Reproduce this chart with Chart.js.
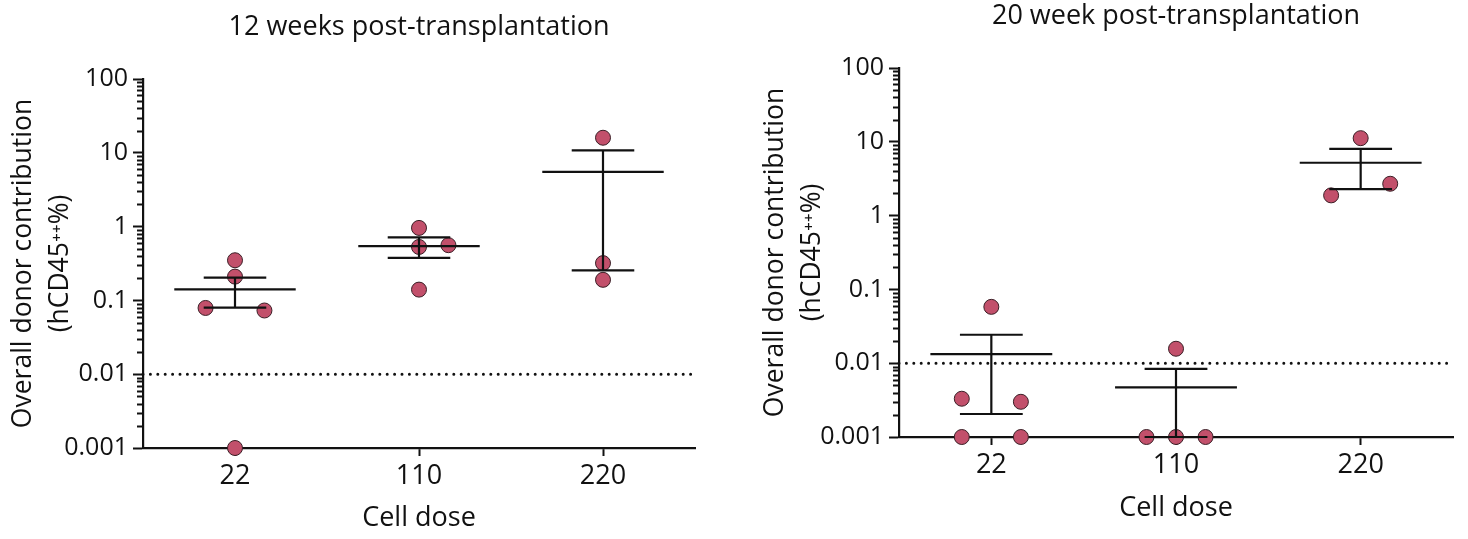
<!DOCTYPE html>
<html>
<head>
<meta charset="utf-8">
<script src="https://cdn.jsdelivr.net/npm/chart.js@4.4.1/dist/chart.umd.min.js"></script>
<style>
  html, body { margin: 0; padding: 0; background: #fff; overflow: hidden; }
  body { width: 1468px; height: 539px; position: relative; }
  canvas { position: absolute; top: 0; }
  #left { left: 0; }
  #right { left: 740px; }
</style>
</head>
<body>
<canvas id="left" width="734" height="539"></canvas>
<canvas id="right" width="728" height="539"></canvas>
<script>
const doses = ["22", "110", "220"];
const yTicks = [0.001, 0.01, 0.1, 1, 10, 100];
const yTickLabels = ["0.001", "0.01", "0.1", "1", "10", "100"];
const detectionLimit = 0.01;
const yTitle = ["Overall donor contribution", "(hCD45\u207A\u207A%)"];
const xTitle = "Cell dose";

// 12 weeks
const w12Values = [[0.35, 0.21, 0.079, 0.073, 0.001], [0.96, 0.53, 0.56, 0.14], [16, 0.32, 0.19]];
const w12Jitter = [[0, 0, -0.16, 0.16, 0], [0, 0, 0.16, 0], [0, 0, 0]];
const w12Mean = [0.141, 0.545, 5.5];
const w12High = [0.203, 0.715, 10.8];
const w12Low = [0.080, 0.377, 0.255];

// 20 weeks
const w20Values = [[0.058, 0.0033, 0.003, 0.001, 0.001], [0.0157, 0.001, 0.001, 0.001], [11.2, 2.7, 1.88]];
const w20Jitter = [[0, -0.16, 0.16, -0.16, 0.16], [0, -0.16, 0, 0.16], [0, 0.16, -0.16]];
const w20Mean = [0.0133, 0.0047, 5.2];
const w20High = [0.0243, 0.0084, 8.0];
const w20Low = [0.00205, 0.001, 2.28];

const FONT = "'Open Sans', 'Noto Sans', sans-serif";
const INK = "#111";
const DOT = "#c2506b";

// minor log ticks on the y axis
const minorTicks = {
  id: "minorTicks",
  afterDraw(chart) {
    const y = chart.scales.y;
    const ctx = chart.ctx;
    const x0 = chart.chartArea.left;
    ctx.save();
    ctx.strokeStyle = INK;
    ctx.lineWidth = 2;
    for (let e = -3; e < 2; e++) {
      for (let m = 2; m <= 9; m++) {
        const py = Math.round(y.getPixelForValue(m * Math.pow(10, e))) + 0.5;
        ctx.beginPath();
        ctx.moveTo(x0 - 6, py);
        ctx.lineTo(x0, py);
        ctx.stroke();
      }
    }
    ctx.restore();
  }
};

function buildDatasets(values, jitter, mean, high, low) {
  const meanPts = [], errPts = [], pts = [];
  mean.forEach((m, i) => {
    meanPts.push({x: i - 0.33, y: m}, {x: i + 0.33, y: m}, {x: i, y: null});
    errPts.push({x: i, y: low[i]}, {x: i, y: high[i]}, {x: i, y: null});
    errPts.push({x: i - 0.17, y: high[i]}, {x: i + 0.17, y: high[i]}, {x: i, y: null});
    errPts.push({x: i - 0.17, y: low[i]}, {x: i + 0.17, y: low[i]}, {x: i, y: null});
  });
  values.forEach((grp, i) => {
    grp.forEach((v, j) => pts.push({x: i + jitter[i][j], y: v}));
  });
  const line = {showLine: true, pointRadius: 0, borderColor: INK, borderWidth: 2.2, clip: false, spanGaps: false};
  return [
    Object.assign({data: meanPts}, line),
    Object.assign({data: errPts}, line),
    {data: [{x: -0.5, y: detectionLimit}, {x: 2.5, y: detectionLimit}], showLine: true, pointRadius: 0,
     borderColor: INK, borderWidth: 3, borderDash: [0, 7.4], borderCapStyle: "round", clip: false},
    {data: pts, pointRadius: 7.5, backgroundColor: DOT, borderColor: "#3a1f26", borderWidth: 1, clip: false}
  ];
}

function makeChart(id, title, datasets, cfg) {
  new Chart(document.getElementById(id), {
    type: "scatter",
    data: {datasets: datasets},
    options: {
      responsive: false,
      animation: false,
      events: [],
      layout: {padding: {left: 0, right: cfg.padRight, top: 0, bottom: 0}},
      plugins: {
        legend: {display: false},
        tooltip: {enabled: false},
        title: {
          display: true, text: title, fullSize: false, color: INK,
          font: {family: FONT, size: 27, weight: "normal", lineHeight: 1.2},
          padding: {top: cfg.titleTop, bottom: cfg.titleBottom}
        }
      },
      scales: {
        x: {
          type: "linear", min: -0.5, max: 2.5,
          afterBuildTicks: s => { s.ticks = doses.map((d, i) => ({value: i})); },
          afterFit: s => { s.height = cfg.xHeight; },
          grid: {drawOnChartArea: false, tickLength: 8, tickWidth: 2, tickColor: INK},
          border: {color: INK, width: 2.2},
          ticks: {callback: (v, i) => doses[i], color: INK, padding: 3.8, maxRotation: 0,
                  font: {family: FONT, size: 27, lineHeight: 1.2}},
          title: {display: true, text: xTitle, color: INK,
                  font: {family: FONT, size: 27, lineHeight: 1.2},
                  padding: {top: 0, bottom: cfg.xTitleBottom}}
        },
        y: {
          type: "logarithmic", min: 0.001, max: 100,
          afterBuildTicks: s => { s.ticks = yTicks.map(v => ({value: v})); },
          afterFit: s => { s.width = cfg.yWidth; },
          grid: {drawOnChartArea: false, tickLength: 10, tickWidth: 2, tickColor: INK},
          border: {color: INK, width: 2.2},
          ticks: {callback: (v, i) => yTickLabels[i], color: INK, padding: 5,
                  font: {family: FONT, size: 25}},
          title: {display: true, text: yTitle, color: INK,
                  font: {family: FONT, size: 26.5, lineHeight: 1.4},
                  padding: {top: cfg.yTitleTop, bottom: 0}}
        }
      }
    },
    plugins: [minorTicks]
  });
}

makeChart("left", "12 weeks post-transplantation",
  buildDatasets(w12Values, w12Jitter, w12Mean, w12High, w12Low),
  {padRight: 39, titleTop: 11, titleBottom: 35.6, xHeight: 91, xTitleBottom: 4.8, yWidth: 143, yTitleTop: 4.5});

makeChart("right", "20 week post-transplantation",
  buildDatasets(w20Values, w20Jitter, w20Mean, w20High, w20Low),
  {padRight: 15, titleTop: 0.2, titleBottom: 35.4, xHeight: 102, xTitleBottom: 14.8, yWidth: 159, yTitleTop: 16.5});
</script>
</body>
</html>
